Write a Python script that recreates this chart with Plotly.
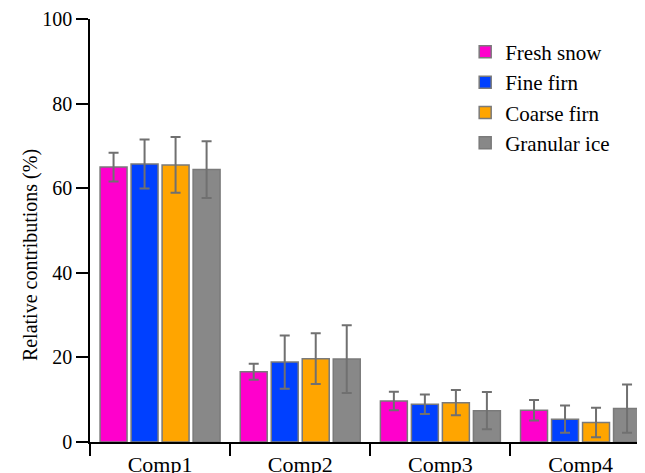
import plotly.graph_objects as go

categories = ["Comp1", "Comp2", "Comp3", "Comp4"]
series_names = ["Fresh snow", "Fine firn", "Coarse firn", "Granular ice"]
fresh_snow = [65.0, 16.6, 9.7, 7.5]
fresh_snow_err = [3.4, 1.9, 2.2, 2.4]
fine_firn = [65.7, 18.9, 8.9, 5.4]
fine_firn_err = [5.8, 6.3, 2.3, 3.2]
coarse_firn = [65.5, 19.7, 9.3, 4.6]
coarse_firn_err = [6.6, 6.0, 3.0, 3.5]
granular_ice = [64.4, 19.6, 7.4, 7.9]
granular_ice_err = [6.7, 8.0, 4.4, 5.7]
y_ticks = [0, 20, 40, 60, 80, 100]
y_title = "Relative contributions (%)"

colors = ["#FF00CC", "#0040FF", "#FFA500", "#888888"]
values = [fresh_snow, fine_firn, coarse_firn, granular_ice]
errors = [fresh_snow_err, fine_firn_err, coarse_firn_err, granular_ice_err]

FONT = "Liberation Serif"

fig = go.Figure()
for name, v, e, c in zip(series_names, values, errors, colors):
    fig.add_trace(go.Bar(
        x=categories, y=v, name=name,
        marker=dict(color=c, line=dict(color="#7a7a7a", width=1.5)),
        error_y=dict(type="data", array=e, visible=True, color="#707070",
                     thickness=2, width=5),
    ))

fig.add_annotation(
    text=y_title, xref="paper", yref="paper", x=-0.108, y=0.442,
    xanchor="center", yanchor="middle", textangle=-90, showarrow=False,
    font=dict(size=20, family=FONT, color="black"),
)

fig.update_layout(
    width=637, height=465,
    margin=dict(l=82, r=0, t=11, b=31),
    barmode="group", bargap=0.115, bargroupgap=0.13,
    plot_bgcolor="white", paper_bgcolor="white",
    font=dict(family=FONT, size=20, color="black"),
    showlegend=True,
    legend=dict(x=0.676, y=0.970, xanchor="left", yanchor="top",
                bgcolor="rgba(0,0,0,0)", font=dict(size=21, family=FONT),
                tracegroupgap=0),
    xaxis=dict(range=[-0.5, 3.46], tickson="boundaries", ticks="outside",
               ticklen=12, tickwidth=1.5, tickcolor="black",
               showline=True, linecolor="black", linewidth=1.5,
               showgrid=False, automargin=False, ticklabelstandoff=2,
               tickfont=dict(size=22, family=FONT)),
    yaxis=dict(range=[0, 100], tickvals=y_ticks, ticks="outside",
               ticklen=12, tickwidth=1.5, tickcolor="black",
               showline=True, linecolor="black", linewidth=1.5,
               showgrid=False, zeroline=False, automargin=False,
               tickfont=dict(size=20, family=FONT)),
)

fig.write_html("out.html")
